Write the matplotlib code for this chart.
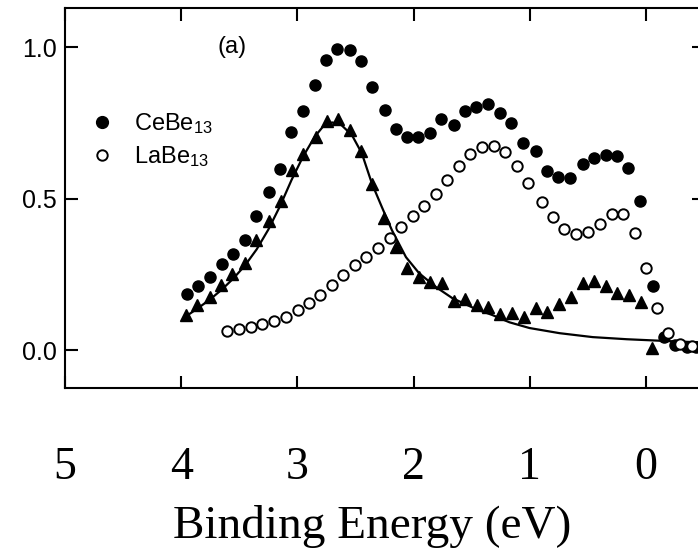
import matplotlib
matplotlib.use('Agg')
import matplotlib.pyplot as plt
from matplotlib.lines import Line2D

# CeBe13 (filled circles)
ce_x = [3.948, 3.853, 3.749, 3.646, 3.551, 3.447, 3.352, 3.248, 3.153, 3.058,
        2.955, 2.851, 2.756, 2.661, 2.549, 2.454, 2.359, 2.246, 2.151, 2.056,
        1.961, 1.857, 1.762, 1.650, 1.555, 1.460, 1.356, 1.253, 1.158, 1.054,
        0.950, 0.855, 0.760, 0.657, 0.544, 0.449, 0.346, 0.251, 0.156, 0.052,
        -0.060, -0.156, -0.251, -0.354, -0.430]
ce_y = [0.185, 0.211, 0.241, 0.284, 0.317, 0.363, 0.442, 0.521, 0.597, 0.719,
        0.789, 0.875, 0.957, 0.993, 0.990, 0.954, 0.868, 0.792, 0.729, 0.703,
        0.703, 0.716, 0.762, 0.743, 0.789, 0.802, 0.812, 0.782, 0.749, 0.683,
        0.657, 0.591, 0.571, 0.568, 0.614, 0.634, 0.644, 0.640, 0.601, 0.492,
        0.211, 0.043, 0.017, 0.010, 0.010]

# LaBe13 (open circles)
la_x = [3.603, 3.499, 3.395, 3.300, 3.197, 3.102, 2.998, 2.903, 2.808, 2.704,
        2.609, 2.505, 2.410, 2.307, 2.203, 2.108, 2.004, 1.909, 1.806, 1.711,
        1.607, 1.512, 1.408, 1.305, 1.210, 1.106, 1.011, 0.898, 0.803, 0.708,
        0.605, 0.501, 0.397, 0.294, 0.199, 0.095, 0.000, -0.095, -0.190, -0.294,
        -0.397]
la_y = [0.063, 0.069, 0.076, 0.086, 0.096, 0.109, 0.132, 0.155, 0.182, 0.215,
        0.248, 0.281, 0.307, 0.337, 0.370, 0.406, 0.442, 0.475, 0.515, 0.561,
        0.607, 0.647, 0.670, 0.673, 0.653, 0.607, 0.551, 0.488, 0.439, 0.399,
        0.383, 0.389, 0.416, 0.449, 0.449, 0.386, 0.271, 0.139, 0.056, 0.020,
        0.013]

# difference spectrum (triangles)
tri_x = [3.957, 3.862, 3.749, 3.654, 3.559, 3.447, 3.352, 3.248, 3.145, 3.050,
         2.955, 2.842, 2.747, 2.652, 2.549, 2.454, 2.359, 2.255, 2.151, 2.056,
         1.952, 1.857, 1.754, 1.650, 1.555, 1.451, 1.356, 1.253, 1.149, 1.045,
         0.950, 0.855, 0.752, 0.648, 0.544, 0.449, 0.346, 0.251, 0.147, 0.043,
         -0.052]
tri_y = [0.116, 0.149, 0.175, 0.215, 0.251, 0.287, 0.363, 0.426, 0.492, 0.594,
         0.647, 0.703, 0.756, 0.762, 0.726, 0.657, 0.548, 0.436, 0.340, 0.271,
         0.241, 0.224, 0.221, 0.162, 0.168, 0.149, 0.142, 0.119, 0.122, 0.109,
         0.139, 0.125, 0.152, 0.175, 0.221, 0.228, 0.211, 0.188, 0.182, 0.158,
         0.007]

# fitted curve
fit_x = [3.957, 3.85, 3.75, 3.65, 3.55, 3.45, 3.35, 3.25, 3.15, 3.05,
         2.95, 2.85, 2.78, 2.70, 2.62, 2.53, 2.445, 2.359, 2.272, 2.186,
         2.065, 1.952, 1.806, 1.667, 1.460, 1.322, 1.175, 1.002, 0.743, 0.458,
         0.164, -0.009, -0.181, -0.449]
fit_y = [0.112, 0.140, 0.168, 0.200, 0.237, 0.280, 0.333, 0.398, 0.475, 0.562,
         0.640, 0.705, 0.738, 0.752, 0.743, 0.710, 0.650, 0.551, 0.472, 0.396,
         0.307, 0.254, 0.208, 0.172, 0.135, 0.116, 0.092, 0.073, 0.056, 0.043,
         0.036, 0.033, 0.030, 0.026]

x_ticks = [5, 4, 3, 2, 1, 0]
y_ticks = [0.0, 0.5, 1.0]

plt.rcParams['mathtext.default'] = 'regular'

fig = plt.figure(figsize=(6.98, 5.53), dpi=100)
ax = fig.add_axes([0.0931, 0.2984, 0.9155, 0.6872])

ax.plot(fit_x, fit_y, color='black', lw=1.6, zorder=2)
ax.plot(tri_x, tri_y, '^', color='black', ms=8, zorder=3)
ax.plot(ce_x, ce_y, 'o', color='black', ms=8, zorder=4)
ax.plot(la_x, la_y, 'o', mfc='white', mec='black', mew=1.4, ms=7.5, zorder=5)

ax.set_xlim(5.0, -0.5)
ax.set_ylim(-0.125, 1.13)

for s in ax.spines.values():
    s.set_linewidth(1.5)

ax.set_xticks(x_ticks)
ax.set_xticklabels([str(t) for t in x_ticks], family='Liberation Serif', fontsize=33)
ax.set_yticks(y_ticks)
ax.set_yticklabels(['0.0', '0.5', '1.0'], family='Liberation Sans', fontsize=18)
ax.tick_params(axis='both', direction='in', length=9, width=1.5,
               top=True, right=True)
ax.tick_params(axis='x', pad=42)
ax.tick_params(axis='y', pad=6)

handles = [Line2D([], [], ls='none', marker='o', color='black', ms=8.5),
           Line2D([], [], ls='none', marker='o', mfc='white', mec='black', mew=1.4, ms=7.5)]
ax.legend(handles, ['CeBe$_{13}$', 'LaBe$_{13}$'], loc='upper left',
          bbox_to_anchor=(0.025, 0.754), frameon=False, handlelength=1.0,
          handletextpad=0.85, labelspacing=0.35, borderaxespad=0,
          prop={'family': 'Liberation Sans', 'size': 17})

ax.text(0.261, 0.897, '(a)', transform=ax.transAxes, family='Liberation Sans',
        fontsize=17, ha='center', va='center')

fig.text(372 / 698, 26 / 553, 'Binding Energy (eV)', family='Liberation Serif',
         fontsize=34, ha='center', va='center')

fig.savefig('out.png', dpi=100)
